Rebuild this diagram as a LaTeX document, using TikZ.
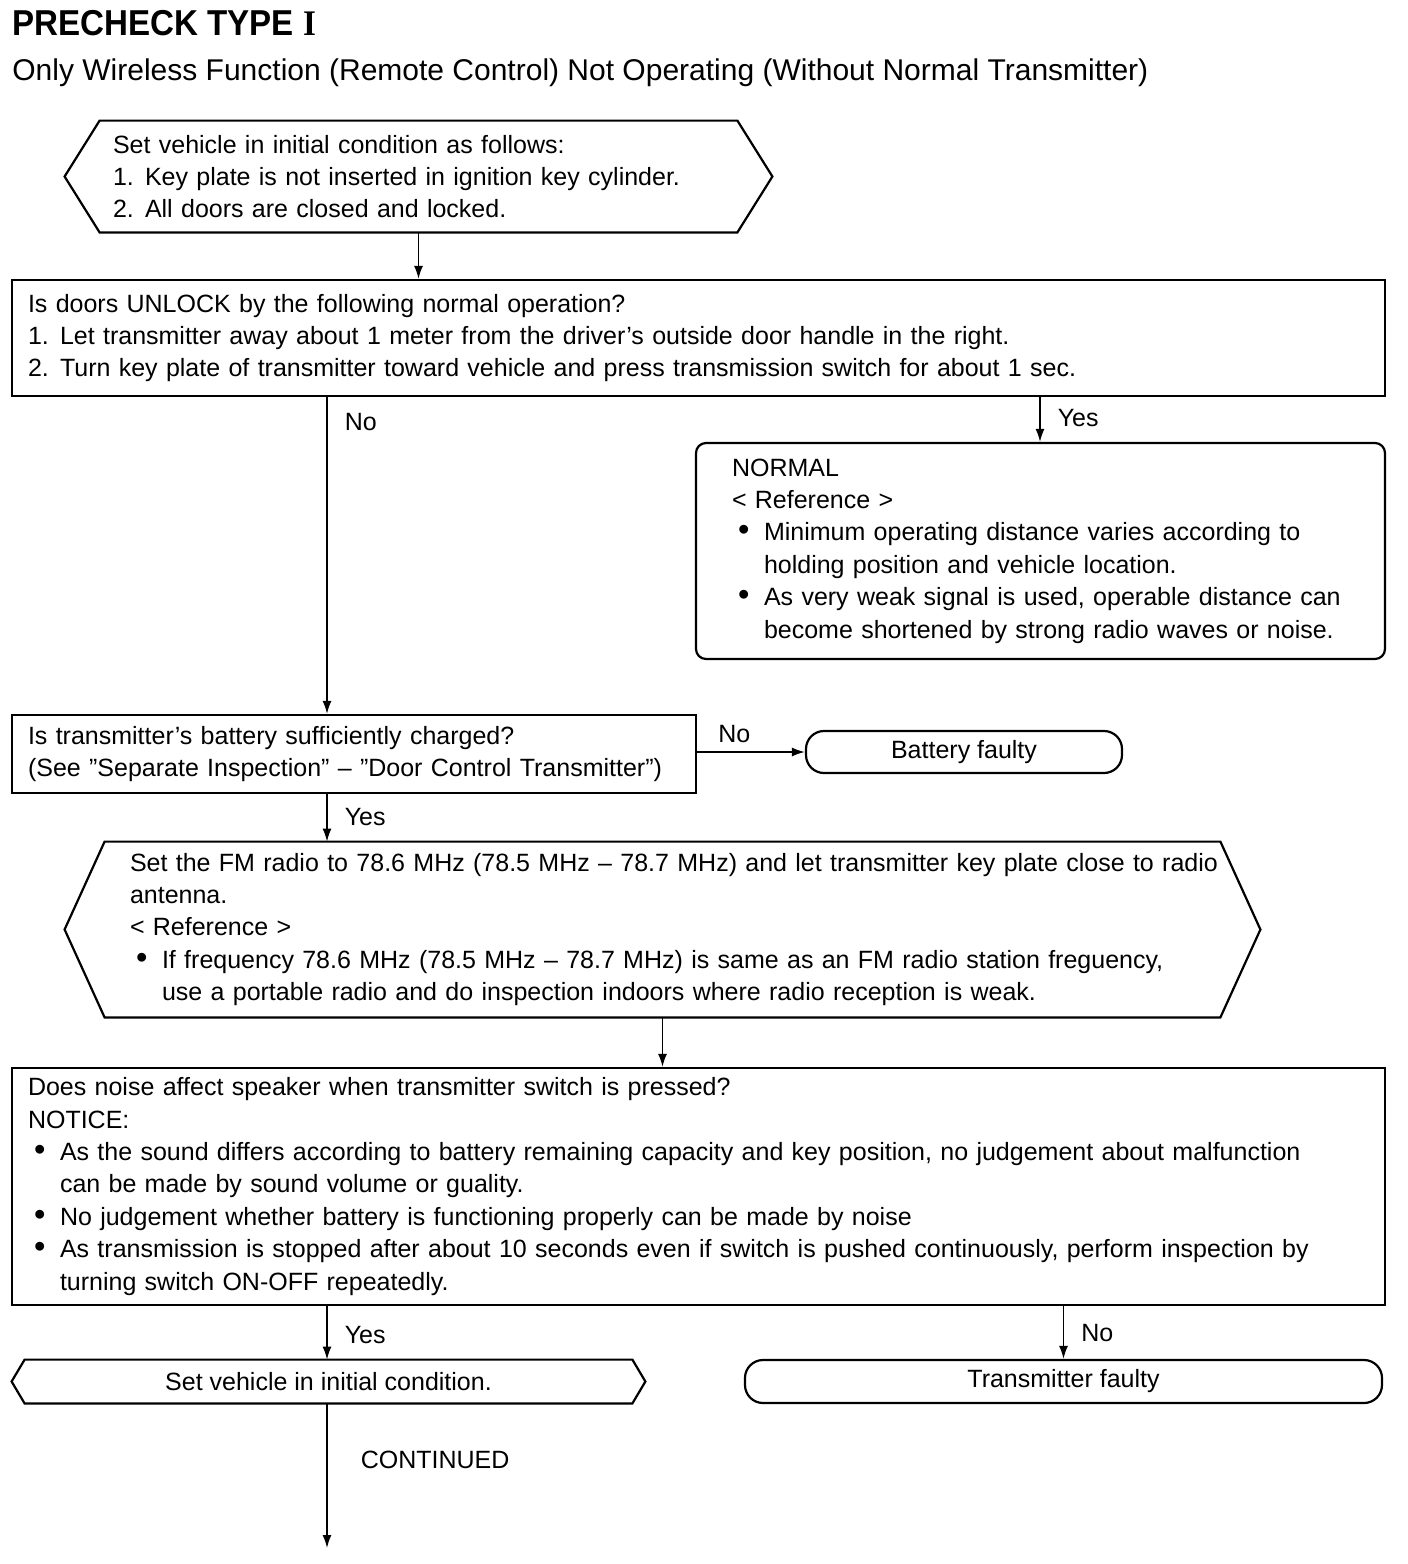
\documentclass[tikz,border=0pt]{standalone}
\usepackage{fontspec}
\setmainfont{Liberation Sans}
\newfontfamily\romanI{Liberation Serif}
\usepackage{graphicx}
\usetikzlibrary{arrows.meta, positioning}

\newcommand\body{\fontsize{12.5}{16.2}\selectfont}
\newcommand\itm[1]{\makebox[16pt][l]{#1}}
\newcommand\blt{\itm{\hspace{3pt}\scalebox{1.3}{\textbullet}}}
\newcommand\hexframe[2]{%
  \draw[boxline] ([xshift=#2]#1.north west) -- ([xshift=-#2]#1.north east) -- (#1.east)
    -- ([xshift=-#2]#1.south east) -- ([xshift=#2]#1.south west) -- (#1.west) -- cycle;}

\begin{document}
\begin{tikzpicture}[
    x=0.5pt, y=-0.5pt,
    boxline/.style={line width=1.1pt},
    box/.style={rectangle, draw, boxline, inner sep=0pt, align=left, font=\body},
    hexbox/.style={rectangle, inner sep=0pt, align=left, font=\body},
    endbox/.style={rectangle, draw, boxline, rounded corners=9pt, inner sep=0pt, align=center, font=\body},
    line/.style={draw, line width=0.8pt, -{Latex[length=6.5pt,width=4.5pt]}},
    lab/.style={font=\body, anchor=west, inner sep=0pt, xshift=8.5pt},
    labtop/.style={font=\body, anchor=south, inner sep=0pt, yshift=4pt}
]
    \useasboundingbox (0,0) rectangle (1408,1564);

    % --- headings ---
    \node [anchor=base west, inner sep=0pt, font=\fontsize{18}{20}\selectfont\bfseries] (title) at (12,35)
        {\scalebox{0.92}[1]{PRECHECK TYPE {\romanI I}}};
    \node [anchor=base west, inner sep=0pt, font=\fontsize{15}{17}\selectfont] (subtitle) at (12,80)
        {Only Wireless Function (Remote Control) Not Operating (Without Normal Transmitter)};

    % --- column guides ---
    \coordinate (colA) at (327,0);
    \coordinate (colB) at (1040,0);
    \coordinate (cont) at (327,1548);

    % --- boxes ---
    \node [hexbox, minimum width=353.5pt, minimum height=55.5pt, text width=305.5pt] (init) at (418.5,176.5)
        {Set vehicle in initial condition as follows:\\
         \itm{1.}Key plate is not inserted in ignition key cylinder.\\
         \itm{2.}All doors are closed and locked.};
    \hexframe{init}{17.5pt}

    \node [box, minimum width=686.5pt, minimum height=58pt, text width=670.5pt] (unlock) at (698.5,338)
        {Is doors UNLOCK by the following normal operation?\\
         \itm{1.}Let transmitter away about 1 meter from the driver’s outside door handle in the right.\\
         \itm{2.}Turn key plate of transmitter toward vehicle and press transmission switch for about 1 sec.};

    \node [box, rounded corners=5pt, minimum width=344.5pt, minimum height=108pt, text width=308.5pt] (normal) at (1040.5,551)
        {NORMAL\\
         < Reference >\\
         \blt Minimum operating distance varies according to\\
         \itm{}holding position and vehicle location.\\
         \blt As very weak signal is used, operable distance can\\
         \itm{}become shortened by strong radio waves or noise.};

    \node [box, minimum width=342pt, minimum height=39pt, text width=326pt] (battq) at (354,754)
        {Is transmitter’s battery sufficiently charged?\\
         (See ”Separate Inspection” -- ”Door Control Transmitter”)};

    \node [endbox, minimum width=158pt, minimum height=21pt] (battbad) at (964,752) {Battery faulty};

    \node [hexbox, minimum width=597.5pt, minimum height=87.5pt, text width=532.5pt] (fm) at (662.5,929.5)
        {\mbox{Set the FM radio to 78.6 MHz (78.5 MHz -- 78.7 MHz) and let transmitter key plate close to radio}\\
         antenna.\\
         < Reference >\\
         \blt If frequency 78.6 MHz (78.5 MHz -- 78.7 MHz) is same as an FM radio station freguency,\\
         \itm{}use a portable radio and do inspection indoors where radio reception is weak.};
    \hexframe{fm}{20pt}

    \node [box, minimum width=686.5pt, minimum height=118.5pt, text width=670.5pt] (noise) at (698.5,1186.5)
        {Does noise affect speaker when transmitter switch is pressed?\\
         NOTICE:\\
         \blt As the sound differs according to battery remaining capacity and key position, no judgement about malfunction\\
         \itm{}can be made by sound volume or guality.\\
         \blt No judgement whether battery is functioning properly can be made by noise\\
         \blt As transmission is stopped after about 10 seconds even if switch is pushed continuously, perform inspection by\\
         \itm{}turning switch ON-OFF repeatedly.};

    \node [hexbox, align=center, minimum width=316.5pt, minimum height=21.5pt] (reset) at (328.5,1381.5)
        {Set vehicle in initial condition.};
    \hexframe{reset}{6.5pt}

    \node [endbox, minimum width=318.5pt, minimum height=21.5pt] (txbad) at (1063.5,1381.5) {Transmitter faulty};

    % --- connections ---
    \path [line] (init.south) -- (init.south |- unlock.north);
    \path [line] (unlock.south -| colA) -- node [lab, pos=0.078] {No} (battq.north -| colA);
    \path [line] (unlock.south -| colB) -- node [lab, pos=0.47] {Yes} (normal.north -| colB);
    \path [line] (battq.east |- battbad.west) -- node [labtop, pos=0.345] {No} (battbad.west);
    \path [line] (battq.south -| colA) -- node [lab, pos=0.49] {Yes} (fm.north -| colA);
    \path [line] (fm.south) -- (fm.south |- noise.north);
    \path [line] (noise.south -| colA) -- node [lab, pos=0.545] {Yes} (reset.north -| colA);
    \path [line] (noise.south -| txbad.north) -- node [lab, pos=0.51] {No} (txbad.north);
    \path [line] (reset.south -| colA) -- node [lab, pos=0.39, xshift=8pt] {CONTINUED} (cont);

\end{tikzpicture}
\end{document}
